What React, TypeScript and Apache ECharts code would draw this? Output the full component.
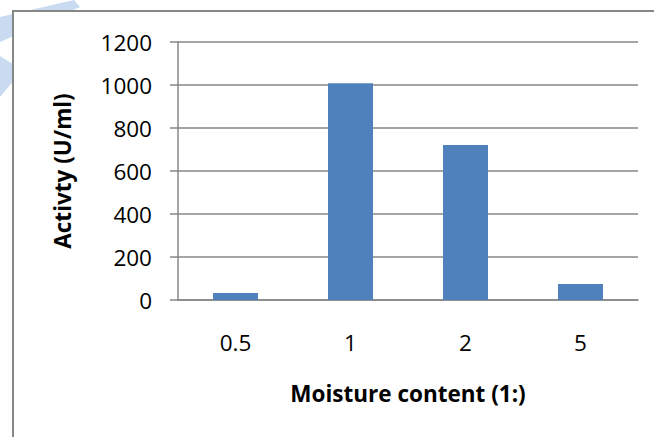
import React, { useEffect, useRef } from "react";
import * as echarts from "echarts";

const categories = ["0.5", "1", "2", "5"];
const activity = [32, 1008, 721, 74];
const yTicks = { min: 0, max: 1200, interval: 200 };

const FONT = "'Open Sans', 'Noto Sans', sans-serif";
const GRAY = "#878787";

export default function App() {
  const ref = useRef<HTMLDivElement>(null);

  useEffect(() => {
    if (!ref.current) return;
    const chart = echarts.init(ref.current, undefined, { renderer: "svg" });
    chart.setOption({
      animation: false,
      backgroundColor: "#ffffff",
      textStyle: { fontFamily: FONT, color: "#000" },
      graphic: [
        // faint watermark strokes behind the chart frame
        {
          type: "polygon",
          z: -30,
          shape: { points: [[74, 0], [80, 7], [0, 42], [0, 17]] },
          style: { fill: "#c9dbf1" },
        },
        {
          type: "polygon",
          z: -30,
          shape: { points: [[0, 56], [16, 66], [16, 78], [0, 97]] },
          style: { fill: "#c9dbf1" },
        },
        // chart frame
        {
          type: "rect",
          z: -20,
          shape: { x: 13, y: 11, width: 700, height: 500 },
          style: { fill: "#ffffff", stroke: GRAY, lineWidth: 2 },
        },
      ],
      grid: { left: 178, right: 16, top: 42, bottom: 137 },
      xAxis: {
        type: "category",
        data: categories,
        name: "Moisture content (1:)",
        nameLocation: "middle",
        nameGap: 82,
        nameTextStyle: { fontFamily: FONT, fontWeight: "bold", fontSize: 22.5, color: "#000" },
        axisLine: { show: true, lineStyle: { color: GRAY, width: 1.5 } },
        axisTick: { show: false },
        axisLabel: { fontFamily: FONT, fontSize: 22.5, color: "#000", margin: 31 },
      },
      yAxis: {
        type: "value",
        min: yTicks.min,
        max: yTicks.max,
        interval: yTicks.interval,
        name: "Activty (U/ml)",
        nameLocation: "middle",
        nameGap: 104,
        nameRotate: 90,
        nameTextStyle: { fontFamily: FONT, fontWeight: "bold", fontSize: 22.5, color: "#000" },
        axisLine: { show: true, lineStyle: { color: GRAY, width: 1.5 } },
        axisTick: { show: true, length: 8, lineStyle: { color: GRAY, width: 1.5 } },
        axisLabel: {
          fontFamily: FONT,
          fontSize: 22.5,
          color: "#000",
          margin: 26,
          formatter: (v: number) => String(v),
        },
        splitLine: { show: true, lineStyle: { color: GRAY, width: 1.5 } },
      },
      series: [
        {
          type: "bar",
          data: activity,
          barWidth: 45,
          itemStyle: { color: "#4f81bd" },
        },
      ],
    });
    return () => chart.dispose();
  }, []);

  return (
    <div
      ref={ref}
      style={{ position: "fixed", left: 0, top: 0, width: 654, height: 437 }}
    />
  );
}
